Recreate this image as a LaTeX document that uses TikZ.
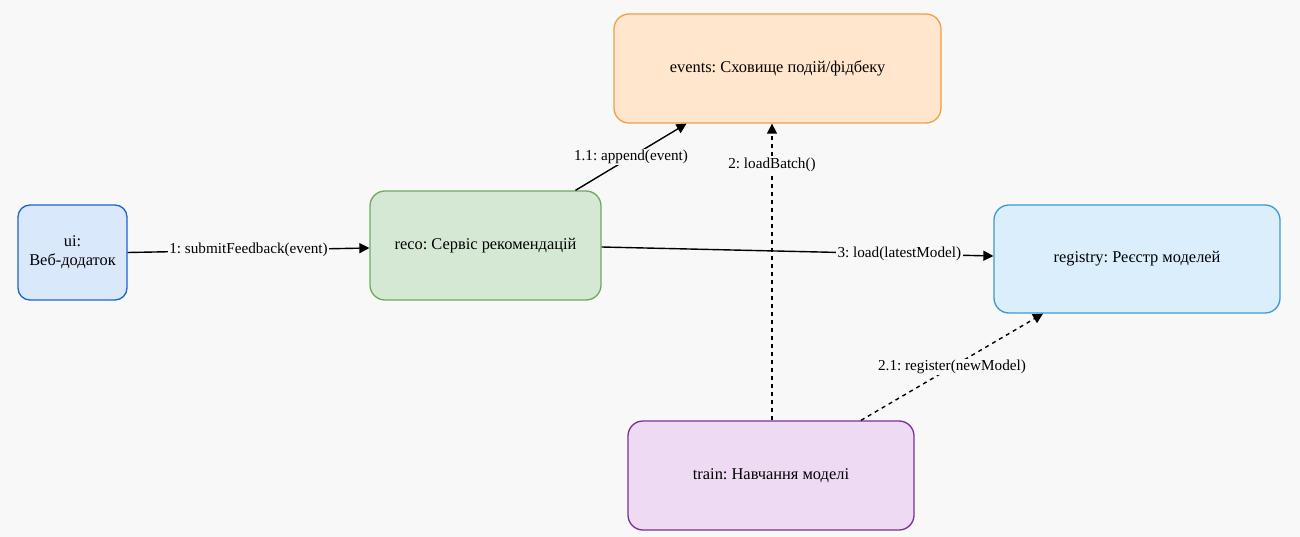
\documentclass[tikz,border=0pt]{standalone}
\usepackage{fontspec}
\setmainfont{Liberation Serif}
\usetikzlibrary{arrows.meta,calc}

\definecolor{bg}{RGB}{248,248,248}
\definecolor{uifill}{RGB}{218,232,252}
\definecolor{uiline}{RGB}{30,100,205}
\definecolor{recofill}{RGB}{213,232,212}
\definecolor{recoline}{RGB}{110,170,90}
\definecolor{evfill}{RGB}{255,230,204}
\definecolor{evline}{RGB}{240,160,70}
\definecolor{regfill}{RGB}{219,238,251}
\definecolor{regline}{RGB}{60,155,215}
\definecolor{trfill}{RGB}{238,218,242}
\definecolor{trline}{RGB}{120,50,150}

\tikzset{
  obj/.style={draw, line width=1.3pt, rounded corners=15pt, align=center,
    font=\fontsize{16.4}{19}\selectfont, inner sep=0pt},
  msg/.style={line width=1.4pt, -{Triangle[length=10pt,width=10pt]}},
  asyncmsg/.style={msg, dash pattern=on 4pt off 4pt},
  lbl/.style={fill=bg, inner sep=1.5pt, font=\fontsize{15.2}{17}\selectfont, text=black}
}

\begin{document}
\frenchspacing
\begin{tikzpicture}[x=1pt,y=-1pt]
  \fill[bg] (0,0) rectangle (1300,537);
  \useasboundingbox (0,0) rectangle (1300,537);

  % participants
  \node[obj, fill=uifill, draw=uiline, rounded corners=12pt,
        minimum width=109pt, minimum height=95pt] (ui) at (72.5,252.5) {ui:\\Веб-додаток};
  \node[obj, fill=recofill, draw=recoline,
        minimum width=231pt, minimum height=109pt] (reco) at (485.5,245.5) {reco: Сервіс рекомендацій};
  \node[obj, fill=evfill, draw=evline,
        minimum width=327pt, minimum height=109pt] (events) at (777.5,68.5) {events: Сховище подій/фідбеку};
  \node[obj, fill=regfill, draw=regline,
        minimum width=286pt, minimum height=108pt] (registry) at (1137,259) {registry: Реєстр моделей};
  \node[obj, fill=trfill, draw=trline,
        minimum width=286pt, minimum height=109pt] (train) at (771,475.5) {train: Навчання моделі};

  % messages
  \draw[msg] (ui.east) -- node[lbl] {1: submitFeedback(event)} ([yshift=-2.5pt]reco.west);
  \draw[msg] ([xshift=90pt]reco.north) -- node[lbl] {1.1: append(event)} ([xshift=-91pt]events.south);
  \draw[asyncmsg] ([xshift=1pt]train.north) -- node[lbl, pos=0.86] {2: loadBatch()} ([xshift=-5.5pt]events.south);
  \draw[asyncmsg] ([xshift=90pt]train.north) -- node[lbl] {2.1: register(newModel)} ([xshift=-94pt]registry.south);
  \draw[msg] ([yshift=-1.5pt]reco.east) -- node[lbl, pos=0.76] {3: load(latestModel)} ([yshift=3pt]registry.west);
\end{tikzpicture}
\end{document}
